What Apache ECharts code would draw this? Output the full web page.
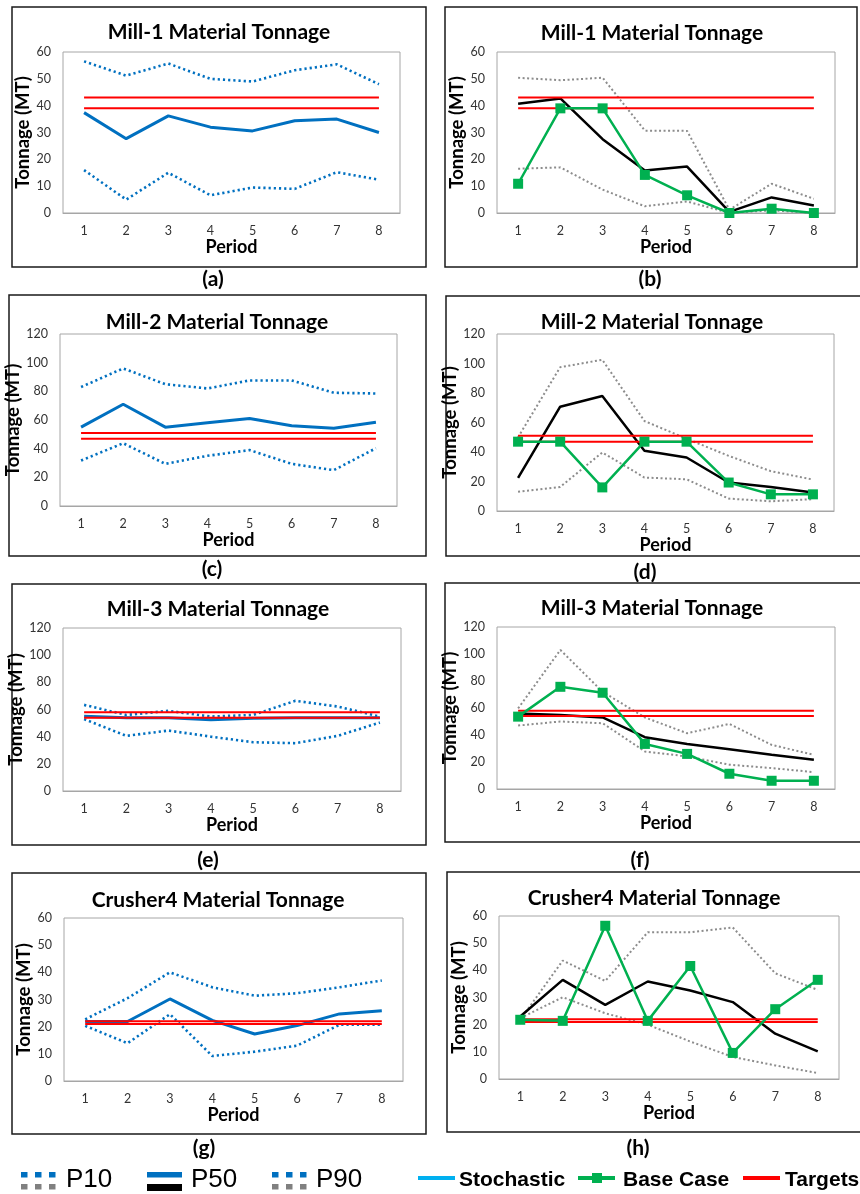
<!DOCTYPE html>
<html><head><meta charset="utf-8">
<script src="https://cdn.jsdelivr.net/npm/echarts@6/dist/echarts.min.js"></script>
<style>html,body{margin:0;padding:0;background:#fff}#c{width:860px;height:1194px}</style>
</head><body><div id="c"></div>
<script>
// ---------------- DATA ----------------
const periods = ['1','2','3','4','5','6','7','8'];

// (a) Mill-1 stochastic
const mill1StochP10 = [16, 5, 15, 6.6, 9.5, 9, 15.2, 12.4];
const mill1StochP50 = [37.4, 27.7, 36.2, 32, 30.6, 34.4, 35, 30];
const mill1StochP90 = [56.5, 51.2, 55.7, 50, 49, 53.2, 55.4, 48];
const mill1TargetHigh = [43, 43, 43, 43, 43, 43, 43, 43];
const mill1TargetLow = [39, 39, 39, 39, 39, 39, 39, 39];
// (b) Mill-1 base case
const mill1BaseP10 = [16.5, 17, 8.7, 2.5, 4.3, 0, 1, 0];
const mill1BaseP50 = [40.7, 42.7, 27.5, 15.8, 17.3, 0.4, 5.8, 2.8];
const mill1BaseP90 = [50.4, 49.5, 50.4, 30.7, 30.6, 1.2, 10.9, 5.3];
const mill1BaseCase = [10.9, 39, 39, 14.2, 6.6, 0, 1.6, 0];

// (c) Mill-2 stochastic
const mill2StochP10 = [31.7, 43.8, 29.4, 35, 39, 29.4, 25, 40.3];
const mill2StochP50 = [55, 71, 55, 58, 61, 56, 54.3, 58.5];
const mill2StochP90 = [83, 96, 85, 82, 87.6, 87.6, 79, 78.5];
const mill2TargetHigh = [51, 51, 51, 51, 51, 51, 51, 51];
const mill2TargetLow = [47, 47, 47, 47, 47, 47, 47, 47];
// (d) Mill-2 base case
const mill2BaseP10 = [13, 16.3, 39.7, 22.7, 21.5, 8.4, 6.6, 8];
const mill2BaseP50 = [22.4, 70.7, 78, 40.8, 36.3, 19.3, 16.3, 12.5];
const mill2BaseP90 = [50, 97.5, 102.5, 61, 49, 37.4, 27, 21.3];
const mill2BaseCase = [47, 47, 16, 47, 47, 19.3, 11.3, 11.3];

// (e) Mill-3 stochastic
const mill3StochP10 = [52.9, 40.6, 44.5, 40, 35.9, 35.2, 40.6, 50.4];
const mill3StochP50 = [55, 54, 54, 52.5, 53.5, 54, 54, 54];
const mill3StochP90 = [63.4, 56, 59, 54.8, 56, 66.4, 62.2, 54.8];
const mill3TargetHigh = [58, 58, 58, 58, 58, 58, 58, 58];
const mill3TargetLow = [54, 54, 54, 54, 54, 54, 54, 54];
// (f) Mill-3 base case
const mill3BaseP10 = [47, 50, 48.7, 27.8, 24.1, 18, 15.5, 12.5];
const mill3BaseP50 = [56, 54.8, 53, 38.4, 33.4, 29.5, 25.3, 21.6];
const mill3BaseP90 = [59.7, 103, 72, 53, 41.3, 48.2, 32.7, 25.3];
const mill3BaseCase = [53.6, 75.7, 71.3, 33.4, 26, 11.3, 6.1, 6.1];

// (g) Crusher4 stochastic
const crusher4StochP10 = [20.3, 13.9, 24.6, 9.2, 10.8, 13, 20.7, 20.7];
const crusher4StochP50 = [21.9, 21.9, 30.2, 22.3, 17.3, 20.4, 24.7, 25.9];
const crusher4StochP90 = [22.7, 30.5, 40, 34.5, 31.4, 32.3, 34.5, 37];
const crusher4TargetHigh = [22, 22, 22, 22, 22, 22, 22, 22];
const crusher4TargetLow = [21, 21, 21, 21, 21, 21, 21, 21];
// (h) Crusher4 base case
const crusher4BaseP10 = [22.4, 30.1, 24.2, 20, 13.8, 8.1, 5, 2.2];
const crusher4BaseP50 = [23, 36.5, 27.3, 35.9, 32.6, 28.3, 16.7, 10.2];
const crusher4BaseP90 = [21.8, 43.6, 36.1, 54, 54, 55.8, 38.9, 32.8];
const crusher4BaseCase = [21.8, 21.4, 56.4, 21.4, 41.6, 9.6, 25.7, 36.5];

const panelLabels = ['(a)','(b)','(c)','(d)','(e)','(f)','(g)','(h)'];
const legendPercentiles = ['P10','P50','P90'];
const legendLines = ['Stochastic','Base Case','Targets'];

// ---------------- LAYOUT ----------------
const panels = [
 {title:'Mill-1 Material Tonnage', kind:'stoch', yMax:60, yStep:10, p10:mill1StochP10, p50:mill1StochP50, p90:mill1StochP90, tHi:mill1TargetHigh, tLo:mill1TargetLow,
  box:[12,7,414,260], grid:[63,52,337,161], t:[219,32], lab:[213,279]},
 {title:'Mill-1 Material Tonnage', kind:'base', yMax:60, yStep:10, p10:mill1BaseP10, p50:mill1BaseP50, p90:mill1BaseP90, bc:mill1BaseCase, tHi:mill1TargetHigh, tLo:mill1TargetLow,
  box:[445,7,412,260], grid:[497,52,338,161], t:[652,33], lab:[650,279]},
 {title:'Mill-2 Material Tonnage', kind:'stoch', yMax:120, yStep:20, p10:mill2StochP10, p50:mill2StochP50, p90:mill2StochP90, tHi:mill2TargetHigh, tLo:mill2TargetLow,
  box:[9,295,417,261], grid:[60,334,337,172], t:[217,322], lab:[212,569]},
 {title:'Mill-2 Material Tonnage', kind:'base', yMax:120, yStep:20, p10:mill2BaseP10, p50:mill2BaseP50, p90:mill2BaseP90, bc:mill2BaseCase, tHi:mill2TargetHigh, tLo:mill2TargetLow,
  box:[446,296,416,260], grid:[497,334,337,177], t:[652,322], lab:[645,572]},
 {title:'Mill-3 Material Tonnage', kind:'stoch', yMax:120, yStep:20, p10:mill3StochP10, p50:mill3StochP50, p90:mill3StochP90, tHi:mill3TargetHigh, tLo:mill3TargetLow,
  box:[12,584,414,261], grid:[63,628,338,163], t:[218,609], lab:[208,860]},
 {title:'Mill-3 Material Tonnage', kind:'base', yMax:120, yStep:20, p10:mill3BaseP10, p50:mill3BaseP50, p90:mill3BaseP90, bc:mill3BaseCase, tHi:mill3TargetHigh, tLo:mill3TargetLow,
  box:[445,583,416,259], grid:[497,627,338,162], t:[652,608], lab:[640,860]},
 {title:'Crusher4 Material Tonnage', kind:'stoch', yMax:60, yStep:10, p10:crusher4StochP10, p50:crusher4StochP50, p90:crusher4StochP90, tHi:crusher4TargetHigh, tLo:crusher4TargetLow,
  box:[12,873,414,261], grid:[64,918,339,163], t:[218,900], lab:[204,1148]},
 {title:'Crusher4 Material Tonnage', kind:'base', yMax:60, yStep:10, p10:crusher4BaseP10, p50:crusher4BaseP50, p90:crusher4BaseP90, bc:crusher4BaseCase, tHi:crusher4TargetHigh, tLo:crusher4TargetLow,
  box:[447,872,416,260], grid:[499,916,340,163], t:[654,898], lab:[638,1148]}
];

const FONT = 'Lato, "Open Sans", sans-serif';
const BLUE = '#0070C0', GRAY = '#8C8C8C', GREEN = '#00B050', RED = '#FF0000';
const xNameStyle = {fontFamily: FONT, fontWeight: 'bold', fontSize: 18, color: '#000'};
const yNameStyle = {fontFamily: FONT, fontWeight: 'bold', fontSize: 18.5, color: '#000'};
const tickStyle = {fontFamily: FONT, fontSize: 12.5, color: '#333'};

const grids = [], xAxes = [], yAxes = [], series = [], graphics = [];

panels.forEach((p, i) => {
  grids.push({left: p.grid[0], top: p.grid[1], width: p.grid[2], height: p.grid[3], show: true,
    borderColor: '#A6A6A6', borderWidth: 1, backgroundColor: 'transparent', containLabel: false, outerBoundsMode: 'none'});
  xAxes.push({gridIndex: i, type: 'category', data: periods, boundaryGap: true,
    axisLine: {show: true, lineStyle: {color: '#A6A6A6', width: 1}}, axisTick: {show: false},
    axisLabel: Object.assign({margin: 11, interval: 0}, tickStyle), splitLine: {show: false},
    name: 'Period', nameLocation: 'middle', nameGap: 25, nameTextStyle: xNameStyle});
  yAxes.push({gridIndex: i, type: 'value', min: 0, max: p.yMax, interval: p.yStep,
    axisLine: {show: false}, axisTick: {show: false}, splitLine: {show: false},
    axisLabel: Object.assign({margin: 12}, tickStyle),
    name: 'Tonnage (MT)', nameLocation: 'middle', nameRotate: 90, nameGap: 29, nameTextStyle: yNameStyle});

  const common = {xAxisIndex: i, yAxisIndex: i, type: 'line', symbol: 'none', silent: true, animation: false, z: 2};
  if (p.kind === 'stoch') {
    series.push(Object.assign({}, common, {name: 'P10', data: p.p10, lineStyle: {color: BLUE, width: 2.6, type: [2.2, 3], cap: 'butt'}}));
    series.push(Object.assign({}, common, {name: 'P90', data: p.p90, lineStyle: {color: BLUE, width: 2.6, type: [2.2, 3], cap: 'butt'}}));
    series.push(Object.assign({}, common, {name: 'P50', data: p.p50, lineStyle: {color: BLUE, width: 3}}));
  } else {
    series.push(Object.assign({}, common, {name: 'P10', data: p.p10, lineStyle: {color: GRAY, width: 2, type: [2, 2.5], cap: 'butt'}}));
    series.push(Object.assign({}, common, {name: 'P90', data: p.p90, lineStyle: {color: GRAY, width: 2, type: [2, 2.5], cap: 'butt'}}));
    series.push(Object.assign({}, common, {name: 'P50', data: p.p50, lineStyle: {color: '#000', width: 2.5}}));
  }
  series.push(Object.assign({}, common, {name: 'Target high', data: p.tHi, lineStyle: {color: RED, width: 2}, z: 3}));
  series.push(Object.assign({}, common, {name: 'Target low', data: p.tLo, lineStyle: {color: RED, width: 2}, z: 3}));
  if (p.bc) {
    series.push(Object.assign({}, common, {name: 'Base Case', data: p.bc, symbol: 'rect', symbolSize: 10,
      showAllSymbol: true, itemStyle: {color: GREEN}, lineStyle: {color: GREEN, width: 2.5}, z: 4}));
  }

  // panel frame, title, sub-label
  graphics.push({type: 'rect', shape: {x: p.box[0], y: p.box[1], width: p.box[2], height: p.box[3]},
    style: {fill: 'none', stroke: '#1a1a1a', lineWidth: 1.5}, silent: true});
  graphics.push({type: 'text', x: p.t[0], y: p.t[1], style: {text: p.title, fontFamily: FONT, fontWeight: 'bold',
    fontSize: 21, fill: '#000', align: 'center', verticalAlign: 'middle'}, silent: true});
  graphics.push({type: 'text', x: p.lab[0], y: p.lab[1], style: {text: panelLabels[i], fontFamily: FONT, fontWeight: 'bold',
    fontSize: 21, fill: '#000', align: 'center', verticalAlign: 'middle'}, silent: true});
});

// ---------------- LEGEND (bottom) ----------------
const LFONT = '"Liberation Sans", Arial, sans-serif';
function dots(x0, y, color) {
  for (let k = 0; k < 3; k++) {
    graphics.push({type: 'rect', shape: {x: x0 + 14 * k, y: y, width: 6.5, height: 5.5}, style: {fill: color}, silent: true});
  }
}
dots(21, 1172, BLUE); dots(21, 1184, '#808080');
graphics.push({type: 'rect', shape: {x: 147, y: 1172, width: 35, height: 5.5}, style: {fill: BLUE}, silent: true});
graphics.push({type: 'rect', shape: {x: 147, y: 1184, width: 35, height: 7}, style: {fill: '#000'}, silent: true});
dots(272, 1172, BLUE); dots(272, 1184, '#808080');
[[66, legendPercentiles[0]], [191, legendPercentiles[1]], [316, legendPercentiles[2]]].forEach(([x, t]) => {
  graphics.push({type: 'text', x: x, y: 1180, style: {text: t, fontFamily: LFONT, fontSize: 26, fill: '#000', align: 'left', verticalAlign: 'middle'}, silent: true});
});
graphics.push({type: 'line', shape: {x1: 418, y1: 1178, x2: 455, y2: 1178}, style: {stroke: '#00B0F0', lineWidth: 4}, silent: true});
graphics.push({type: 'line', shape: {x1: 578, y1: 1178, x2: 615, y2: 1178}, style: {stroke: GREEN, lineWidth: 4}, silent: true});
graphics.push({type: 'rect', shape: {x: 592, y: 1173, width: 10, height: 10}, style: {fill: GREEN}, silent: true});
graphics.push({type: 'line', shape: {x1: 743, y1: 1178, x2: 780, y2: 1178}, style: {stroke: RED, lineWidth: 4}, silent: true});
[[459, legendLines[0]], [623, legendLines[1]], [785, legendLines[2]]].forEach(([x, t]) => {
  graphics.push({type: 'text', x: x, y: 1180, style: {text: t, fontFamily: LFONT, fontWeight: 'bold', fontSize: 21, fill: '#000', align: 'left', verticalAlign: 'middle'}, silent: true});
});

const chart = echarts.init(document.getElementById('c'), null, {renderer: 'canvas', width: 860, height: 1194});
chart.setOption({
  animation: false,
  backgroundColor: '#fff',
  grid: grids, xAxis: xAxes, yAxis: yAxes, series: series,
  graphic: {elements: graphics}
});
</script>
</body></html>
